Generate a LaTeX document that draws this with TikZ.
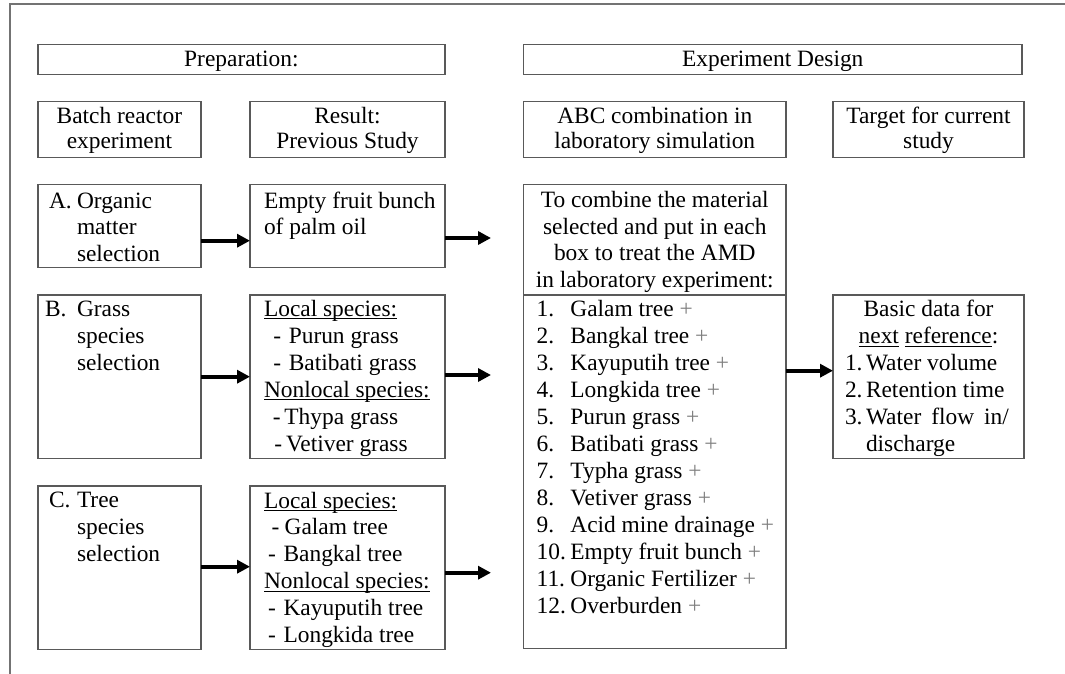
\documentclass[tikz,border=0pt]{standalone}
\usepackage{fontspec}
\setmainfont{Liberation Serif}
\usetikzlibrary{arrows.meta}
\definecolor{edgec}{gray}{0.35}
\definecolor{framec}{gray}{0.45}
\definecolor{plusc}{gray}{0.5}
\newlength\ulwd
\newcommand{\undl}[1]{\settowidth{\ulwd}{#1}\rlap{\rule[-3.3pt]{\ulwd}{1pt}}#1}
\newcommand{\dsh}[3]{\hspace*{#1}\makebox[#2][l]{-}#3}
\newcommand{\itm}[2]{\makebox[33.7pt][l]{#1}#2 \textcolor{plusc}{+}}
\newcommand{\tgt}[2]{\makebox[21pt][l]{#1}#2}
\newcommand{\rowsL}[1]{\begin{tabular}[t]{@{}l@{}}#1\end{tabular}}
\newcommand{\rowsC}[1]{\begin{tabular}[t]{@{}c@{}}#1\end{tabular}}
\begin{document}
\begin{tikzpicture}[x=1pt,y=-1pt,
  font=\fontsize{23.4pt}{27pt}\selectfont,
  box/.style={draw=edgec,line width=1.4pt,inner sep=0pt,outer sep=0pt,anchor=north west},
  txt/.style={inner sep=0pt,outer sep=0pt,anchor=base west},
  ctxt/.style={inner sep=0pt,outer sep=0pt,anchor=base},
  lsp/.style={font=\fontsize{23.4pt}{#1}\selectfont},
  arr/.style={line width=4pt,-{Triangle[length=13pt,width=13pt]}}]
\useasboundingbox (0,0) rectangle (1065,674);
\fill[white] (0,0) rectangle (1065,674);
\draw[framec,line width=1.8pt] (10,674) -- (10,4) -- (1065,4);
% boxes
\node[box,minimum width=407.2pt,minimum height=30pt] (prep) at (37.8,44.5) {};
\node[box,minimum width=498.5pt,minimum height=30pt] (expd) at (523.5,44.5) {};
\node[box,minimum width=163.2pt,minimum height=55.6pt] (hbatch) at (37.8,101.7) {};
\node[box,minimum width=195pt,minimum height=55.6pt] (hres) at (250,101.7) {};
\node[box,minimum width=262.5pt,minimum height=55.6pt] (habc) at (523.5,101.7) {};
\node[box,minimum width=191pt,minimum height=55.6pt] (htgt) at (833,101.7) {};
\node[box,minimum width=163.2pt,minimum height=82.6pt] (A) at (37.8,184.7) {};
\node[box,minimum width=195pt,minimum height=82.6pt] (E) at (250,184.7) {};
\node[box,minimum width=262.5pt,minimum height=110.3pt] (K1) at (523.5,184.7) {};
\node[box,minimum width=262.5pt,minimum height=353.5pt] (K2) at (523.5,295) {};
\node[box,minimum width=163.2pt,minimum height=163.5pt] (B) at (37.8,295) {};
\node[box,minimum width=195pt,minimum height=163.5pt] (RB) at (250,295) {};
\node[box,minimum width=191pt,minimum height=163.5pt] (T) at (833,295) {};
\node[box,minimum width=163.2pt,minimum height=163.5pt] (C) at (37.8,486) {};
\node[box,minimum width=195pt,minimum height=163.5pt] (RC) at (250,486) {};
% arrows
\coordinate (yA) at (0,240.7);
\coordinate (eA) at (491,238);
\coordinate (yB) at (0,376.7);
\coordinate (eB) at (491,375);
\coordinate (yK) at (0,370.7);
\coordinate (yC) at (0,566.7);
\coordinate (eC) at (491,572.7);
\draw[arr] (A.east |- yA) -- (E.west |- yA);
\draw[arr] (E.east |- eA) -- (eA);
\draw[arr] (B.east |- yB) -- (RB.west |- yB);
\draw[arr] (RB.east |- eB) -- (eB);
\draw[arr] (K2.east |- yK) -- (T.west |- yK);
\draw[arr] (C.east |- yC) -- (RC.west |- yC);
\draw[arr] (RC.east |- eC) -- (eC);
% texts
\node[ctxt] (tprep) at (241.4,67) {Preparation:};
\node[ctxt] (texpd) at (772.75,67) {Experiment Design};
\node[ctxt,lsp=24.5pt] (thbatch) at (119.4,124) {\rowsC{Batch reactor\\experiment}};
\node[ctxt,lsp=24.5pt] (thres) at (347.5,124) {\rowsC{Result:\\Previous Study}};
\node[ctxt,lsp=24.5pt] (thabc) at (654.75,124) {\rowsC{ABC combination in\\laboratory simulation}};
\node[ctxt,lsp=24.5pt] (thtgt) at (928.5,124) {\rowsC{Target for current\\study}};
\node[txt] (tAl) at (49,208.3) {A.};
\node[txt,lsp=26.5pt] (tA) at (77,208.3) {\rowsL{Organic\\matter\\selection}};
\node[txt,lsp=26.3pt] (tE) at (264,208.3) {\rowsL{Empty fruit bunch\\of palm oil}};
\node[ctxt,lsp=26.7pt] (tK1) at (654.75,207.3) {\rowsC{To combine the material\\selected and put in each\\box to treat the AMD\\in laboratory experiment:}};
\node[txt,lsp=27pt] (tK2) at (536.7,316) {\rowsL{\itm{1.}{Galam tree}\\\itm{2.}{Bangkal tree}\\\itm{3.}{Kayuputih tree}\\\itm{4.}{Longkida tree}\\\itm{5.}{Purun grass}\\\itm{6.}{Batibati grass}\\\itm{7.}{Typha grass}\\\itm{8.}{Vetiver grass}\\\itm{9.}{Acid mine drainage}\\\itm{10.}{Empty fruit bunch}\\\itm{11.}{Organic Fertilizer}\\\itm{12.}{Overburden}}};
\node[txt] (tBl) at (45,316.7) {B.};
\node[txt,lsp=26.7pt] (tB) at (77,316.7) {\rowsL{Grass\\species\\selection}};
\node[txt,lsp=27pt] (tRB) at (264,316) {\rowsL{\undl{Local species:}\\\dsh{9.3pt}{15.5pt}{Purun grass}\\\dsh{9.3pt}{15.5pt}{Batibati grass}\\\undl{Nonlocal species:}\\\dsh{8.8pt}{11.6pt}{Thypa grass}\\\dsh{10.4pt}{11.7pt}{Vetiver grass}}};
\node[ctxt,lsp=27pt] (tT1) at (928.5,316.5) {\rowsC{Basic data for\\\undl{next} \undl{reference}:}};
\node[txt,lsp=27pt] (tT2) at (845,370) {\rowsL{\tgt{1.}{Water volume}\\\tgt{2.}{Retention time}\\\tgt{3.}{Water\hspace{10pt}flow\hspace{10pt}in/}\\\tgt{}{discharge}}};
\node[txt] (tCl) at (49,507.7) {C.};
\node[txt,lsp=26.8pt] (tC) at (77,507.7) {\rowsL{Tree\\species\\selection}};
\node[txt,lsp=26.8pt] (tRC) at (264,508) {\rowsL{\undl{Local species:}\\\dsh{7.6pt}{13.1pt}{Galam tree}\\\dsh{4.1pt}{15.5pt}{Bangkal tree}\\\undl{Nonlocal species:}\\\dsh{4.1pt}{15.5pt}{Kayuputih tree}\\\dsh{4.1pt}{15.5pt}{Longkida tree}}};
\end{tikzpicture}
\end{document}
